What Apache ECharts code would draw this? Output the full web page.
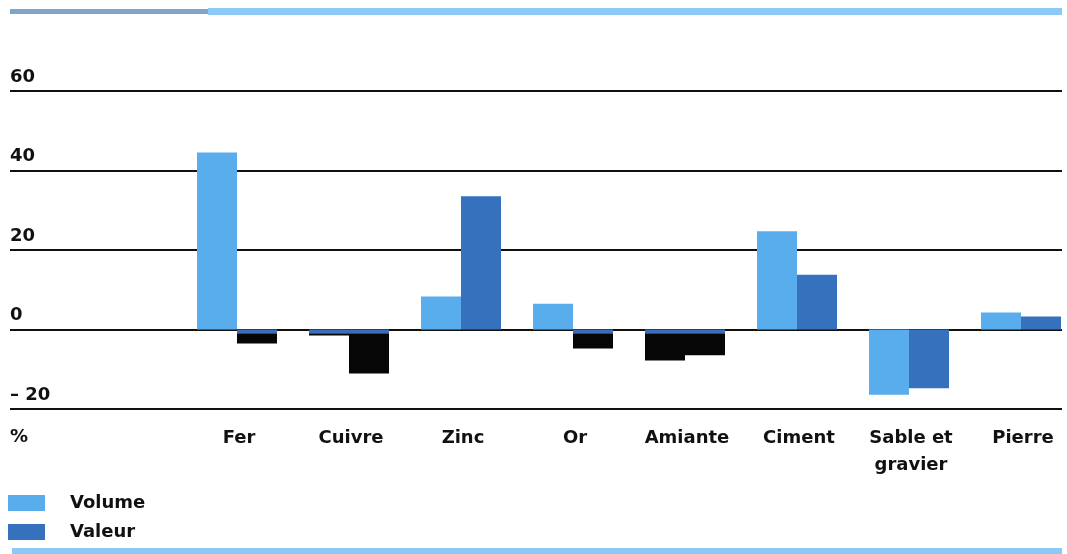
<!DOCTYPE html>
<html>
<head>
<meta charset="utf-8">
<script src="https://cdn.jsdelivr.net/npm/echarts@6/dist/echarts.min.js"></script>
<style>
  html, body { margin: 0; padding: 0; background: #fff; }
  #chart { width: 1067px; height: 554px; }
</style>
</head>
<body>
<div id="chart"></div>
<script>
// Variation (%) par produit, volume et valeur
const categories = ['Fer', 'Cuivre', 'Zinc', 'Or', 'Amiante', 'Ciment', 'Sable et\ngravier', 'Pierre'];
const volume = [44.5, -1.5, 8.3, 6.5, -7.8, 24.7, -16.4, 4.3];
const valeur = [-3.5, -11.1, 33.5, -4.8, -6.5, 13.8, -14.8, 3.3];
const yTicks = [-20, 0, 20, 40, 60];

const FONT = 'DejaVu Sans';
const LIGHT = '#5aadec';
const DARK = '#3671bd';
const INK = '#060606';
const RULE = '#8cc9f7';

// bars printed in solid ink below the baseline
const inked = { Volume: [1, 4], Valeur: [0, 1, 3, 4] };

const chart = echarts.init(document.getElementById('chart'), null, { renderer: 'canvas' });

function buildData(values, name, base, inkFill) {
  return values.map((v, i) => {
    if (inked[name].includes(i)) {
      return { value: v, itemStyle: { color: inkFill || INK } };
    }
    return { value: v, itemStyle: { color: base } };
  });
}

function buildOption(inkFill) {
  return {
    animation: false,
    backgroundColor: '#fff',
    textStyle: { fontFamily: FONT },
    grid: [
      { left: 10, right: 5, top: 91, bottom: 145, outerBoundsMode: 'none' },
      { left: 181, width: 896, top: 91, bottom: 145, outerBoundsMode: 'none' }
    ],
    xAxis: [
      { gridIndex: 0, type: 'category', data: categories, show: false },
      {
        gridIndex: 1, type: 'category', data: categories,
        axisLine: { show: false }, axisTick: { show: false },
        axisLabel: {
          color: '#111', fontFamily: FONT, fontWeight: 'bold', fontSize: 18,
          lineHeight: 27, margin: 16, interval: 0, padding: [0, 0, 0, 4]
        }
      }
    ],
    yAxis: [
      {
        gridIndex: 0, type: 'value', min: -20, max: 60, interval: 20,
        axisLine: { show: false }, axisTick: { show: false },
        splitLine: { show: true, lineStyle: { color: '#111', width: 2 } },
        axisLabel: {
          inside: true, margin: 0, color: '#111', fontFamily: FONT,
          fontWeight: 'bold', fontSize: 18, verticalAlign: 'bottom',
          padding: [0, 0, 5, 0],
          formatter: v => yTicks.includes(v) ? (v < 0 ? '\u2013 ' + Math.abs(v) : String(v)) : ''
        }
      },
      { gridIndex: 1, type: 'value', min: -20, max: 60, interval: 20, show: false }
    ],
    legend: {
      orient: 'vertical', left: 8, top: 494, padding: 0,
      itemWidth: 37, itemHeight: 16, itemGap: 11,
      icon: 'rect',
      textStyle: { color: '#111', fontFamily: FONT, fontWeight: 'bold', fontSize: 18, padding: [0, 0, 0, 20] },
      data: ['Volume', 'Valeur']
    },
    series: [
      {
        name: 'Volume', type: 'bar', xAxisIndex: 1, yAxisIndex: 1,
        barWidth: 40, barGap: '0%', clip: false, color: LIGHT,
        data: buildData(volume, 'Volume', LIGHT, inkFill)
      },
      {
        name: 'Valeur', type: 'bar', xAxisIndex: 1, yAxisIndex: 1,
        barWidth: 40, barGap: '0%', clip: false, color: DARK,
        data: buildData(valeur, 'Valeur', DARK, inkFill)
      }
    ],
    graphic: [
      { type: 'rect', shape: { x: 10, y: 9, width: 198, height: 5 }, style: { fill: '#7fa6c6' }, z: 10 },
      { type: 'rect', shape: { x: 208, y: 8, width: 854, height: 7 }, style: { fill: RULE }, z: 10 },
      { type: 'rect', shape: { x: 12, y: 548, width: 1050, height: 6 }, style: { fill: RULE }, z: 10 },
      {
        type: 'text', left: 10, top: 428,
        style: { text: '%', fill: '#111', font: 'bold 18px "DejaVu Sans"' }
      }
    ]
  };
}

chart.setOption(buildOption(null));

// inked bars keep a thin blue edge along the baseline
const zeroY = chart.convertToPixel({ yAxisIndex: 1 }, 0);
const inkFill = new echarts.graphic.LinearGradient(0, zeroY, 0, zeroY + 5, [
  { offset: 0, color: '#3a6fb8' },
  { offset: 0.7, color: '#3a6fb8' },
  { offset: 1, color: INK }
], true);
chart.setOption(buildOption(inkFill), true);
</script>
</body>
</html>
